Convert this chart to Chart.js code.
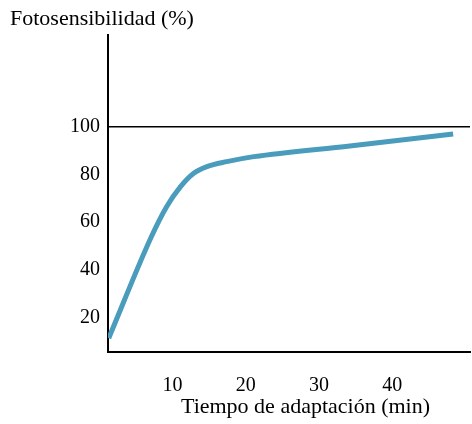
<!DOCTYPE html>
<html>
<head>
<meta charset="utf-8">
<script src="https://cdn.jsdelivr.net/npm/chart.js@4"></script>
<style>
  html, body { margin: 0; padding: 0; background: #fff; }
  #wrap { width: 472px; height: 424px; }
</style>
</head>
<body>
<div id="wrap"><canvas id="chart"></canvas></div>
<script>
// data
const minutes = [1.3, 7.1, 9.2, 11.1, 12.9, 14.7, 17.4, 21.1, 34.2, 48.3];
const sensitivity = [11.4, 53.8, 66.5, 74.9, 80.5, 83.3, 85.4, 87.5, 92.0, 97.0];
const xTicks = [10, 20, 30, 40];
const yTicks = [20, 40, 60, 80, 100];

const serif = "'Liberation Serif', 'DejaVu Serif', serif";
const points = minutes.map((m, i) => ({ x: m, y: sensitivity[i] }));

new Chart(document.getElementById('chart'), {
    type: 'line',
    data: {
        datasets: [{
            data: points,
            borderColor: '#4a9cbd',
            borderWidth: 5,
            pointRadius: 0,
            cubicInterpolationMode: 'monotone',
            fill: false
        }]
    },
    options: {
        responsive: true,
        maintainAspectRatio: false,
        animation: false,
        layout: { padding: { left: 10, right: 2, top: 0, bottom: 0 } },
        plugins: {
            legend: { display: false },
            tooltip: { enabled: false },
            title: {
                display: true,
                text: 'Fotosensibilidad (%)',
                align: 'start',
                color: '#000',
                font: { family: serif, size: 22, weight: 'normal' },
                padding: { top: 6, bottom: 2.6 }
            }
        },
        scales: {
            x: {
                type: 'linear',
                min: 1.2,
                max: 50.6,
                afterBuildTicks: s => { s.ticks = xTicks.map(v => ({ value: v })); },
                afterFit: s => { s.height = 72; },
                grid: { display: false, drawTicks: false },
                border: { display: true, color: '#000', width: 2 },
                ticks: { color: '#000', padding: 22, maxRotation: 0, font: { family: serif, size: 20 } },
                title: {
                    display: true,
                    // leading spaces nudge the centred title right, as in the original
                    text: '\u00a0\u00a0\u00a0\u00a0\u00a0\u00a0Tiempo de adaptación (min)',
                    color: '#000',
                    font: { family: serif, size: 22 },
                    padding: { top: 0 }
                }
            },
            y: {
                type: 'linear',
                min: 5.6,
                max: 138.5,
                afterBuildTicks: s => { s.ticks = yTicks.map(v => ({ value: v })); },
                afterFit: s => { s.width = 98; },
                grid: {
                    drawTicks: false,
                    lineWidth: 1.5,
                    color: c => (c.tick && c.tick.value === 100) ? '#000' : 'rgba(0,0,0,0)'
                },
                border: { display: true, color: '#000', width: 2 },
                ticks: { color: '#000', padding: 8, font: { family: serif, size: 20 } }
            }
        }
    }
});
</script>
</body>
</html>
